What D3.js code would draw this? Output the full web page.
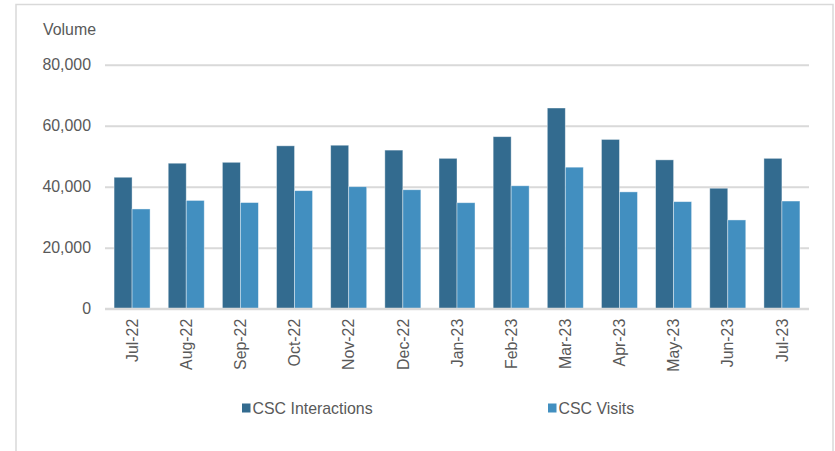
<!DOCTYPE html>
<html>
<head>
<meta charset="utf-8">
<script src="https://cdn.jsdelivr.net/npm/d3@7"></script>
<style>
  html, body { margin: 0; padding: 0; background: #fff; }
  svg { display: block; font-family: "Liberation Sans", Arial, sans-serif; }
</style>
</head>
<body>
<svg id="chart" width="835" height="451"></svg>
<script>
// Monthly CSC volumes
const months = ["Jul-22", "Aug-22", "Sep-22", "Oct-22", "Nov-22", "Dec-22",
                "Jan-23", "Feb-23", "Mar-23", "Apr-23", "May-23", "Jun-23", "Jul-23"];
const interactions = [43100, 47700, 48000, 53400, 53600, 52000,
                      49300, 56400, 65800, 55500, 48800, 39500, 49300];
const visits = [32700, 35500, 34800, 38700, 40000, 39000,
                34750, 40300, 46400, 38300, 35100, 29100, 35300];
const seriesNames = ["CSC Interactions", "CSC Visits"];
const yTicks = [0, 20000, 40000, 60000, 80000];

const colors = { "CSC Interactions": "#336b8f", "CSC Visits": "#428fc0" };
const textColor = "#595959";
const gridColor = "#d9d9d9";
const fontSize = "15.9px";

const rows = months.map((m, i) => ({
  month: m,
  values: [
    { key: seriesNames[0], value: interactions[i] },
    { key: seriesNames[1], value: visits[i] }
  ]
}));

const svg = d3.select("#chart");

// Outer frame
svg.append("rect")
  .attr("x", 16).attr("y", 4.5)
  .attr("width", 817).attr("height", 470)
  .attr("fill", "none")
  .attr("stroke", gridColor)
  .attr("stroke-width", 1.5);

const plot = { left: 105, right: 809, top: 64.7, bottom: 308.7 };

const y = d3.scaleLinear().domain([0, 80000]).range([plot.bottom, plot.top]);
const x = d3.scaleBand().domain(months).range([plot.left, plot.right])
  .paddingInner(0.335).paddingOuter(0.1675);
const xs = d3.scaleBand().domain(seriesNames).range([0, x.bandwidth()]);

// Gridlines and y labels
const yAxis = d3.axisLeft(y)
  .tickValues(yTicks)
  .tickSize(-(plot.right - plot.left))
  .tickPadding(14)
  .tickFormat(d3.format(","));
const gy = svg.append("g").attr("transform", `translate(${plot.left},0)`).call(yAxis);
gy.select(".domain").remove();
gy.selectAll(".tick line").attr("stroke", gridColor).attr("stroke-width", 2);
gy.selectAll(".tick text")
  .attr("fill", textColor)
  .attr("font-size", fontSize)
  .attr("font-family", "Liberation Sans, Arial, sans-serif");

// Axis title
svg.append("text")
  .attr("x", 43).attr("y", 35)
  .attr("fill", textColor)
  .attr("font-size", fontSize)
  .text("Volume");

// Bars
const groups = svg.append("g").selectAll("g")
  .data(rows).join("g")
  .attr("transform", d => `translate(${x(d.month)},0)`);
groups.selectAll("rect")
  .data(d => d.values).join("rect")
  .attr("x", d => xs(d.key))
  .attr("width", xs.bandwidth())
  .attr("y", d => y(d.value))
  .attr("height", d => y(0) - y(d.value))
  .attr("fill", d => colors[d.key])
  .attr("stroke", "#ffffff")
  .attr("stroke-opacity", 0.5)
  .attr("stroke-width", 0.8);

// Baseline redrawn over bars
svg.append("line")
  .attr("x1", plot.left).attr("x2", plot.right)
  .attr("y1", y(0)).attr("y2", y(0))
  .attr("stroke", gridColor).attr("stroke-width", 2);

// Month labels, rotated
const xAxis = d3.axisBottom(x).tickSize(0).tickPadding(0);
const gx = svg.append("g").attr("transform", `translate(0,${plot.bottom})`).call(xAxis);
gx.select(".domain").remove();
gx.selectAll(".tick text")
  .attr("fill", textColor)
  .attr("font-size", fontSize)
  .attr("font-family", "Liberation Sans, Arial, sans-serif")
  .attr("text-anchor", "end")
  .attr("dy", null)
  .attr("y", 0)
  .attr("transform", "translate(5.7,10) rotate(-90)");

// Legend
const legendItems = [
  { key: seriesNames[0], x: 242 },
  { key: seriesNames[1], x: 548 }
];
const lg = svg.append("g").selectAll("g").data(legendItems).join("g")
  .attr("transform", d => `translate(${d.x},403)`);
lg.append("rect")
  .attr("width", 8.5).attr("height", 9).attr("y", 0.5)
  .attr("fill", d => colors[d.key]);
lg.append("text")
  .attr("x", 10.5).attr("y", 10.8)
  .attr("fill", textColor)
  .attr("font-size", fontSize)
  .text(d => d.key);
</script>
</body>
</html>
